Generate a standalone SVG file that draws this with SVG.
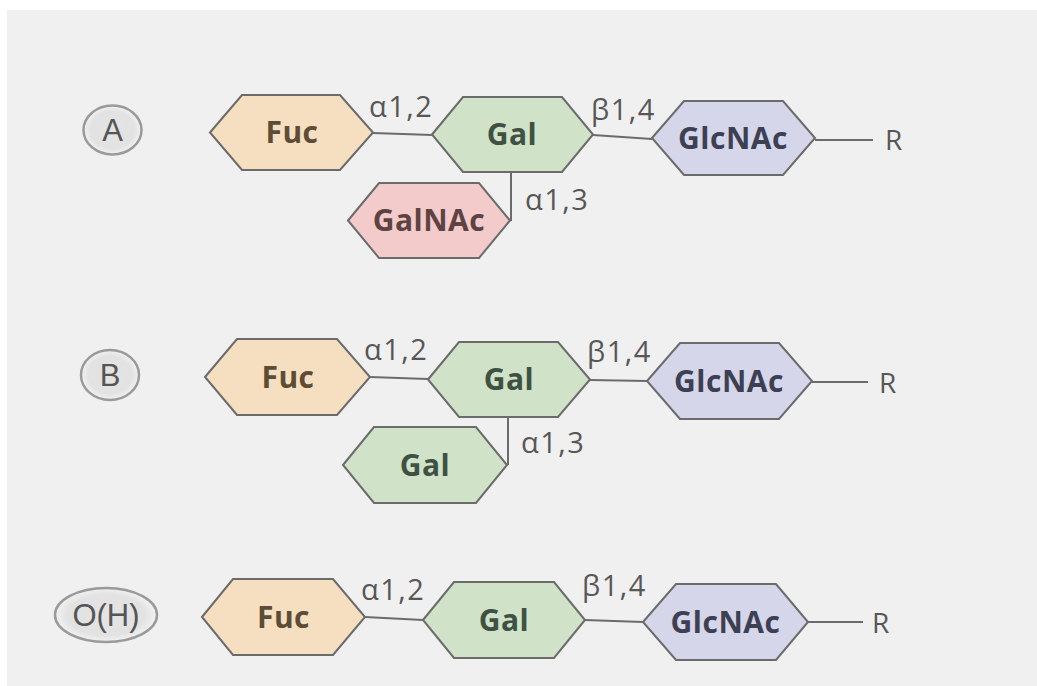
<svg xmlns="http://www.w3.org/2000/svg" width="1037" height="686" viewBox="0 0 1037 686">
<defs>
<radialGradient id="badge" cx="50%" cy="50%" r="50%">
<stop offset="0" stop-color="#e4e4e4"/>
<stop offset="0.75" stop-color="#e2e2e2"/>
<stop offset="1" stop-color="#f2f2f2"/>
</radialGradient>
</defs>
<style>
.hex{stroke:#6b6b6b;stroke-width:2;stroke-linejoin:miter}
.fuc{fill:#f6dfc1}
.gal{fill:#d0e2c8}
.glc{fill:#d5d6ea}
.galnac{fill:#f3cbca}
.ht{font-family:"Open Sans","Liberation Sans",sans-serif;font-weight:700;font-size:30px;text-anchor:middle;letter-spacing:0.5px}
.tfuc{fill:#5d4c36}
.tgal{fill:#3f5143}
.tglc{fill:#3d3f52}
.tgalnac{fill:#5e4343}
.lk{font-family:"Open Sans","Liberation Sans",sans-serif;font-size:29px;fill:#575757;letter-spacing:1.5px}
.rr{font-family:"Open Sans","Liberation Sans",sans-serif;font-size:28px;fill:#575757}
.lines line{stroke:#6b6b6b;stroke-width:2}
.bd{fill:url(#badge);stroke:#9a9a9a;stroke-width:2.5}
.bt{font-family:"Liberation Sans","Open Sans",sans-serif;font-size:31px;fill:#555;text-anchor:middle}
</style>
<rect x="0" y="0" width="1037" height="686" fill="#ffffff"/>
<rect x="7" y="10" width="1030" height="676" fill="#f0f0f0"/>

<g id="connectors" class="lines">
<line x1="373" y1="133" x2="432" y2="135"/>
<line x1="593" y1="135" x2="652" y2="139"/>
<line x1="815" y1="140" x2="873" y2="140"/>
<line x1="511" y1="172" x2="511" y2="221"/>
<line x1="370" y1="377" x2="428" y2="379"/>
<line x1="590" y1="380" x2="647" y2="381"/>
<line x1="812" y1="382" x2="868" y2="382"/>
<line x1="508" y1="417" x2="508" y2="465"/>
<line x1="365" y1="617" x2="423" y2="620"/>
<line x1="585" y1="620" x2="643" y2="622"/>
<line x1="808" y1="622" x2="863" y2="622"/>
</g>

<g id="labels">
<text class="lk" x="369" y="117">α1,2</text>
<text class="lk" x="591" y="120">β1,4</text>
<text class="lk" x="525" y="210">α1,3</text>
<text class="rr" x="885" y="150">R</text>
<text class="lk" x="364" y="360">α1,2</text>
<text class="lk" x="587" y="362">β1,4</text>
<text class="lk" x="521" y="453">α1,3</text>
<text class="rr" x="879" y="393">R</text>
<text class="lk" x="361" y="600">α1,2</text>
<text class="lk" x="582" y="596">β1,4</text>
<text class="rr" x="872" y="633">R</text>
</g>

<g id="badgeA"><ellipse class="bd" cx="112.5" cy="130" rx="29" ry="24.5"/><text class="bt" x="112.5" y="141">A</text></g>
<g id="badgeB"><ellipse class="bd" cx="110" cy="375" rx="29" ry="25"/><text class="bt" x="110" y="386">B</text></g>
<g id="badgeOH"><ellipse class="bd" cx="106" cy="615" rx="51" ry="27"/><text class="bt" x="106" y="626">O(H)</text></g>

<g id="A-Fuc"><polygon class="hex fuc" points="210,132.5 242,95 340,95 373,132.5 340,170 242,170"/><text class="ht tfuc" x="292" y="143">Fuc</text></g>
<g id="A-Gal"><polygon class="hex gal" points="432,134.5 463,97 562,97 593,134.5 562,172 463,172"/><text class="ht tgal" x="512" y="145">Gal</text></g>
<g id="A-GlcNAc"><polygon class="hex glc" points="652,138 684,101 783,101 815,138 783,175 684,175"/><text class="ht tglc" x="733" y="149">GlcNAc</text></g>
<g id="A-GalNAc"><polygon class="hex galnac" points="348,220.5 379,183 479,183 510,220.5 479,258 379,258"/><text class="ht tgalnac" x="429" y="231">GalNAc</text></g>

<g id="B-Fuc"><polygon class="hex fuc" points="205,377 237,339 337,339 370,377 337,415 237,415"/><text class="ht tfuc" x="288" y="388">Fuc</text></g>
<g id="B-Gal"><polygon class="hex gal" points="428,379.5 459,342 558,342 590,379.5 558,417 459,417"/><text class="ht tgal" x="509" y="390">Gal</text></g>
<g id="B-GlcNAc"><polygon class="hex glc" points="647,381 680,343 779,343 812,381 779,419 680,419"/><text class="ht tglc" x="729" y="392">GlcNAc</text></g>
<g id="B-Gal2"><polygon class="hex gal" points="343,465 374,427 476,427 507,465 476,503 374,503"/><text class="ht tgal" x="425" y="476">Gal</text></g>

<g id="OH-Fuc"><polygon class="hex fuc" points="202,617 233,579 333,579 365,617 333,655 233,655"/><text class="ht tfuc" x="283.5" y="628">Fuc</text></g>
<g id="OH-Gal"><polygon class="hex gal" points="423,620 454,582 554,582 585,620 554,658 454,658"/><text class="ht tgal" x="504" y="631">Gal</text></g>
<g id="OH-GlcNAc"><polygon class="hex glc" points="643,622 676,584 776,584 808,622 776,660 676,660"/><text class="ht tglc" x="725.5" y="633">GlcNAc</text></g>
</svg>
